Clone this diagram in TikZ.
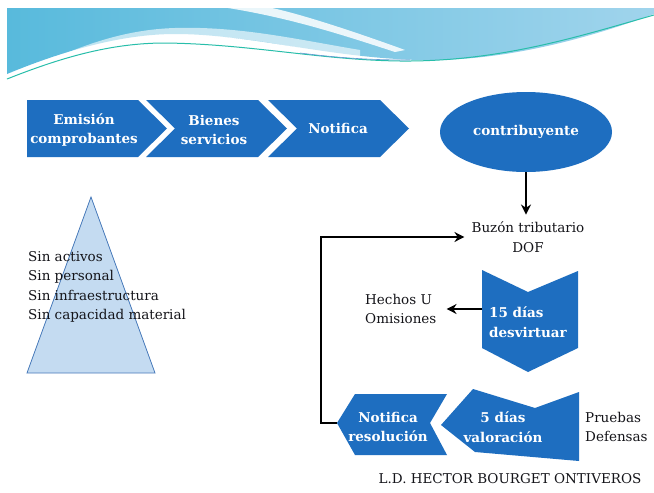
\documentclass[tikz,border=0pt]{standalone}
\usepackage{fontspec}
\setmainfont{DejaVu Serif}
\usetikzlibrary{arrows.meta,shapes.geometric}
\definecolor{sblue}{RGB}{30,110,192}
\definecolor{trifill}{RGB}{196,219,241}
\definecolor{triedge}{RGB}{72,122,186}
\definecolor{bandL}{RGB}{88,186,220}
\definecolor{bandR}{RGB}{160,212,236}
\definecolor{tealline}{RGB}{40,190,170}
\definecolor{txt}{RGB}{20,20,25}
\begin{document}
\begin{tikzpicture}[x=1pt,y=-1pt,
  shapefill/.style={fill=sblue},
  wlbl/.style={font=\bfseries\fontsize{13.5}{19.5}\selectfont, text=white, align=center, inner sep=0pt},
  dlbl/.style={font=\fontsize{13.5}{19.5}\selectfont, text=txt, inner sep=0pt},
  arr/.style={draw=black, line width=2.4pt, -{Stealth[length=10pt,width=10pt]}},
  conn/.style={draw=black, line width=2.4pt}]
\useasboundingbox (0,0) rectangle (654,493);
\fill[white] (0,0) rectangle (654,493);
% banner
\shade[left color=bandL, right color=bandR] (7,8) -- (654,8) -- (654,14)
  .. controls (600,34) and (510,62) .. (420,60)
  .. controls (330,58) and (250,34) .. (175,34)
  .. controls (120,34) and (60,52) .. (7,74) -- cycle;
\fill[white, opacity=0.85] (228,8) .. controls (290,18) and (340,34) .. (395,52)
  -- (405,50) .. controls (350,30) and (300,14) .. (272,8) -- cycle;
\fill[white, opacity=0.6] (7,80) .. controls (60,55) and (110,30) .. (175,28)
  .. controls (240,26) and (300,40) .. (360,50) -- (360,60) .. controls (300,48) and (240,34) .. (175,36)
  .. controls (110,38) and (60,58) .. (7,82) -- cycle;
\draw[tealline, line width=1pt] (7,79) .. controls (60,58) and (110,43) .. (165,43)
  .. controls (250,44) and (320,60) .. (400,61) .. controls (500,62) and (580,36) .. (654,15);
\draw[sblue!70, line width=0.6pt] (300,53) .. controls (340,58) and (370,60) .. (410,60);
% top chevrons
\fill[shapefill] (27,100) -- (138,100) -- (167,128.5) -- (138,157) -- (27,157) -- cycle;
\fill[shapefill] (146,100) -- (258,100) -- (287,128.5) -- (258,157) -- (146,157) -- (175,128.5) -- cycle;
\fill[shapefill] (268,100) -- (380,100) -- (409,128.5) -- (380,157) -- (268,157) -- (297,128.5) -- cycle;
\node[wlbl] (emision) at (84,130) {Emisión\\comprobantes};
\node[wlbl] (bienes) at (214,130) {Bienes\\servicios};
\node[wlbl] (notifica) at (338,128) {Notifica};
% ellipse
\node[ellipse, fill=sblue, minimum width=172pt, minimum height=80pt, inner sep=0pt,
  font=\bfseries\fontsize{13.5}{19.5}\selectfont, text=white] (contrib) at (526,132) {contribuyente};
% buzon
\node[dlbl, align=center, inner sep=7pt] (buzon) at (528,237) {Buzón tributario\\DOF};
\draw[arr] (contrib.south) -- (contrib.south |- buzon.north);
% triangle
\draw[triedge, fill=trifill, line width=0.8pt] (91,197) -- (155,373) -- (27,373) -- cycle;
\node[dlbl, align=left, anchor=west] (sin) at (28,287) {Sin activos\\Sin personal\\Sin infraestructura\\Sin capacidad material};
% 15 dias
\fill[shapefill] (482,270) -- (528,292) -- (578,271) -- (578,348) -- (528,372) -- (482,348) -- cycle;
\node[wlbl, align=left] (d15) at (528,322) {15 días\\desvirtuar};
\coordinate (d15w) at (482,309);
\node[dlbl, align=left, anchor=west] (hechos) at (365,309) {Hechos U\\Omisiones};
\draw[arr, shorten >=10pt] (d15w) -- (hechos.east |- d15w);
% bottom row
\fill[shapefill] (441,425) -- (473,389) -- (535,408) -- (579,392) -- (579,461) -- (475,452) -- cycle;
\node[wlbl] (d5) at (503,427) {5 días\\valoración};
\fill[shapefill] (337,423) -- (355,394) -- (447,394) -- (430,423) -- (447,455) -- (355,455) -- cycle;
\node[wlbl] (nres) at (388,427) {Notifica\\resolución};
\coordinate (nrtip) at (337,423);
\node[dlbl, align=left, anchor=west] (pruebas) at (585,427) {Pruebas\\Defensas};
\draw[conn, -{Stealth[length=10pt,width=10pt]}] (nrtip) -- ++(-16,0) |- (buzon.west);
% footer
\node[dlbl] (footer) at (510,479) {L.D. HECTOR BOURGET ONTIVEROS};
\end{tikzpicture}
\end{document}
